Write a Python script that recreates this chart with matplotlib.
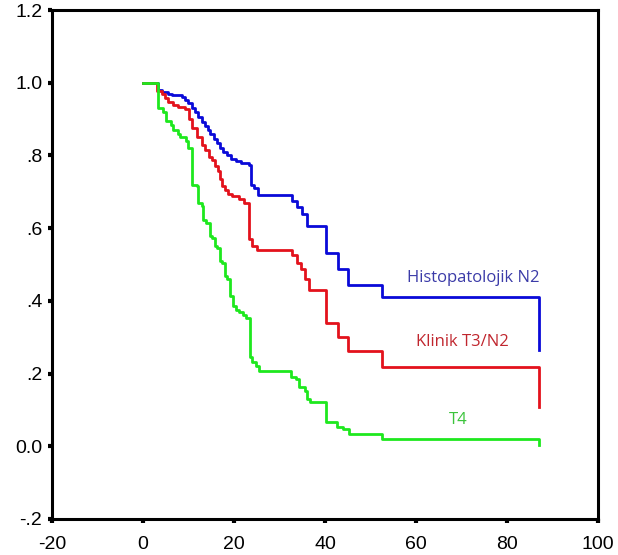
import matplotlib
matplotlib.use("Agg")
import matplotlib.pyplot as plt

# Kaplan-Meier style step data (time, survival)
blue_t = [0, 3.3, 4.2, 5.5, 6.4, 8.6, 9.2, 9.9, 10.8, 11.4, 12.1, 13.0, 13.6, 14.3, 14.7,
          15.6, 16.3, 17.0, 17.5, 18.5, 19.3, 20.5, 21.5, 23.3, 23.8, 24.4, 25.2, 32.5, 32.8,
          33.8, 34.9, 36.0, 40.3, 42.8, 45.0, 52.5, 87.1]
blue_s = [1.0, 0.98, 0.975, 0.97, 0.965, 0.96, 0.953, 0.945, 0.93, 0.92, 0.907, 0.893, 0.88, 0.87, 0.86,
          0.845, 0.834, 0.82, 0.81, 0.80, 0.79, 0.785, 0.78, 0.775, 0.72, 0.71, 0.692, 0.692, 0.676,
          0.658, 0.64, 0.605, 0.532, 0.488, 0.445, 0.41, 0.266]

red_t = [0, 3.1, 4.2, 4.8, 5.5, 6.6, 7.7, 9.2, 10.2, 10.8, 11.8, 12.9, 13.6, 14.5, 15.2, 15.9,
         16.4, 16.9, 17.4, 18.0, 18.6, 19.6, 21.0, 22.1, 23.2, 24.0, 25.1, 32.5, 32.8, 33.8, 34.8,
         35.6, 36.4, 40.2, 42.8, 45.0, 52.5, 87.1]
red_s = [1.0, 0.978, 0.97, 0.957, 0.947, 0.94, 0.934, 0.927, 0.90, 0.875, 0.852, 0.83, 0.816, 0.797, 0.788, 0.77,
         0.758, 0.734, 0.715, 0.706, 0.695, 0.688, 0.679, 0.67, 0.569, 0.552, 0.541, 0.541, 0.525, 0.505, 0.487,
         0.46, 0.431, 0.34, 0.30, 0.262, 0.217, 0.217]
red_end = 0.107

green_t = [0, 3.3, 4.4, 5.0, 6.2, 6.5, 7.8, 8.2, 9.5, 9.9, 10.7, 11.8, 12.2, 12.9, 13.3, 13.8,
           14.7, 15.1, 15.8, 16.2, 16.9, 17.3, 18.0, 18.4, 19.1, 19.8, 20.4, 21.1, 22.0, 22.6,
           23.5, 24.0, 24.8, 25.5, 32.6, 33.6, 34.4, 35.5, 36.0, 36.7, 40.2, 42.7, 44.0, 45.3,
           52.5, 87.1]
green_s = [1.0, 0.93, 0.92, 0.895, 0.885, 0.87, 0.86, 0.85, 0.84, 0.82, 0.72, 0.715, 0.67, 0.66, 0.623, 0.615,
           0.578, 0.573, 0.55, 0.546, 0.509, 0.505, 0.468, 0.459, 0.413, 0.385, 0.376, 0.37, 0.362, 0.354,
           0.245, 0.232, 0.22, 0.206, 0.19, 0.184, 0.162, 0.151, 0.129, 0.121, 0.066, 0.052, 0.047, 0.033,
           0.019, 0.019]
green_end = 0.003

labels = ["Histopatolojik N2", "Klinik T3/N2", "T4"]
label_pos = [(72.5, 0.464), (70.1, 0.286), (69.2, 0.071)]
line_colors = ["#0a0ad8", "#e3121c", "#1ee81e"]
text_colors = ["#3b3ba8", "#c0262e", "#3cc43c"]

xticks = [-20, 0, 20, 40, 60, 80, 100]
yticks = [-0.2, 0.0, 0.2, 0.4, 0.6, 0.8, 1.0, 1.2]
yticklabels = ["-.2", "0.0", ".2", ".4", ".6", ".8", "1.0", "1.2"]

fig = plt.figure(figsize=(6.18, 5.55), dpi=100)
ax = fig.add_axes([0.0841, 0.0649, 0.8835, 0.917])

ax.step(blue_t, blue_s, where="post", color=line_colors[0], lw=2.0)
ax.step(red_t + [red_t[-1]], red_s + [red_end], where="post", color=line_colors[1], lw=2.0)
ax.step(green_t + [green_t[-1]], green_s + [green_end], where="post", color=line_colors[2], lw=2.0)

for lab, (x, y), c in zip(labels, label_pos, text_colors):
    ax.text(x, y, lab, color=c, ha="center", va="center", fontsize=12, family="Open Sans")

ax.set_xlim(-20, 100)
ax.set_ylim(-0.2, 1.2)
ax.set_xticks(xticks)
ax.set_xticklabels([str(v) for v in xticks])
ax.set_yticks(yticks)
ax.set_yticklabels(yticklabels)
for lbl in ax.get_xticklabels() + ax.get_yticklabels():
    lbl.set_fontfamily("Liberation Sans")
    lbl.set_fontsize(14)
ax.tick_params(axis="both", direction="out", length=3, width=3, color="black")
ax.tick_params(axis="x", pad=9)
ax.tick_params(axis="y", pad=4)
for sp in ax.spines.values():
    sp.set_linewidth(2.2)
    sp.set_color("black")

fig.savefig("out.png", dpi=100)
